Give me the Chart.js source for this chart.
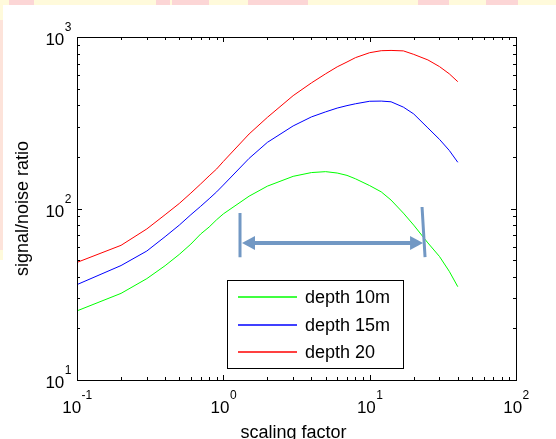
<!DOCTYPE html>
<html>
<head>
<meta charset="utf-8">
<script src="https://cdn.jsdelivr.net/npm/chart.js@4.4.0/dist/chart.umd.min.js"></script>
<style>
  html, body { margin: 0; padding: 0; background: #fff; }
  #wrap { width: 556px; height: 439px; }
</style>
</head>
<body>
<div id="wrap"><canvas id="chart" width="556" height="439"></canvas></div>
<script>
// scaling factor samples
const scaling = [0.1, 0.2, 0.3, 0.4, 0.5, 0.6, 0.7, 0.8, 0.9, 1, 1.5, 2, 3, 4, 5, 6, 7, 8, 10, 12, 14, 17, 20, 25, 30, 35, 40];

// signal/noise ratio
const depth10 = [25.3, 32, 39, 46.4, 54, 62, 71, 78, 86, 93, 118, 135, 154, 162, 164, 161, 156, 149, 136, 125, 112, 94, 80, 63, 52.5, 43, 35];
const depth15 = [36, 46.5, 56.5, 68.5, 80, 92, 103, 114, 125, 137, 196, 243, 303, 342, 366, 385, 398, 408, 422, 423, 419, 390, 356, 295, 253, 218, 186];
const depth20 = [48.5, 61, 76, 92, 107, 123, 139, 155, 170, 188, 272, 340, 455, 540, 610, 670, 715, 758, 810, 832, 835, 830, 792, 735, 672, 610, 549];

const seriesLabels = ['depth 10m', 'depth 15m', 'depth 20'];
const seriesColors = ['#00ff00', '#0000ff', '#ff0000'];

// decade labels
const xDecades = [-1, 0, 1, 2];
const yDecades = [1, 2, 3];

// the double arrow laid over the plot (scaling factor / ratio)
const arrowFrom = 1.3;
const arrowTo = 22.8;
const arrowY = 63;
const barLeft = [94, 52];
const barRight = [102, 52];

const FONT = 'Liberation Sans, Arial, sans-serif';

function toPoints(vals) {
  return scaling.map((x, i) => ({ x: x, y: vals[i] }));
}

// 10^n label with a raised exponent
function drawPower(ctx, exp, x, y, mode) {
  ctx.font = '17px ' + FONT;
  const wBase = ctx.measureText('10').width;
  ctx.font = '12px ' + FONT;
  const wExp = ctx.measureText(String(exp)).width;
  let left;
  if (mode === 'center') left = x - (wBase + wExp) / 2;
  else left = x - wBase - wExp;
  ctx.textAlign = 'left';
  ctx.textBaseline = 'alphabetic';
  ctx.fillStyle = '#000';
  ctx.font = '17px ' + FONT;
  ctx.fillText('10', left, y);
  ctx.font = '12px ' + FONT;
  ctx.fillText(String(exp), left + wBase + 0.5, y - 14);
}

const pagePlugin = {
  id: 'page',
  beforeDraw: (chart) => {
    const ctx = chart.ctx;
    ctx.save();
    ctx.fillStyle = '#ffffff';
    ctx.fillRect(0, 0, chart.width, chart.height);
    // slide strip along the top and left edge
    ctx.fillStyle = '#fffadb';
    ctx.fillRect(0, 0, chart.width, 5);
    ctx.fillRect(0, 0, 3, 260);
    ctx.fillStyle = '#fcd6d6';
    [[9, 25], [156, 14], [172, 37], [248, 60], [418, 31], [486, 32]].forEach(([x, w]) => {
      ctx.fillRect(x, 0, w, 5);
    });
    ctx.fillStyle = '#fde3da';
    ctx.fillRect(0, 20, 3, 230);
    ctx.restore();
  },
  afterDraw: (chart) => {
    const ctx = chart.ctx;
    const xs = chart.scales.x;
    const ys = chart.scales.y;
    const { left, right, top, bottom } = chart.chartArea;

    ctx.save();
    // box
    ctx.strokeStyle = '#000';
    ctx.lineWidth = 1;
    ctx.strokeRect(Math.round(left) + 0.5, Math.round(top) + 0.5,
      Math.round(right - left), Math.round(bottom - top));

    // inward ticks on all four sides
    ctx.beginPath();
    for (let d = -1; d < 2; d++) {
      for (let k = 1; k <= 10; k++) {
        const v = k * Math.pow(10, d);
        const px = Math.round(xs.getPixelForValue(v)) + 0.5;
        const len = (k === 1 || k === 10) ? 5 : 3;
        ctx.moveTo(px, bottom); ctx.lineTo(px, bottom - len);
        ctx.moveTo(px, top); ctx.lineTo(px, top + len);
      }
    }
    for (let d = 1; d < 3; d++) {
      for (let k = 1; k <= 10; k++) {
        const v = k * Math.pow(10, d);
        const py = Math.round(ys.getPixelForValue(v)) + 0.5;
        const len = (k === 1 || k === 10) ? 5 : 3;
        ctx.moveTo(left, py); ctx.lineTo(left + len, py);
        ctx.moveTo(right, py); ctx.lineTo(right - len, py);
      }
    }
    ctx.stroke();

    // tick labels
    xDecades.forEach((e) => {
      drawPower(ctx, e, xs.getPixelForValue(Math.pow(10, e)), bottom + 33, 'center');
    });
    yDecades.forEach((e) => {
      drawPower(ctx, e, left - 6, ys.getPixelForValue(Math.pow(10, e)) + 8, 'right');
    });

    // axis titles
    ctx.fillStyle = '#000';
    ctx.font = '18px ' + FONT;
    ctx.textAlign = 'center';
    ctx.textBaseline = 'alphabetic';
    ctx.fillText('scaling factor', (left + right) / 2 - 3, 438);
    ctx.save();
    ctx.translate(28, (top + bottom) / 2);
    ctx.rotate(-Math.PI / 2);
    ctx.fillText('signal/noise ratio', 0, 0);
    ctx.restore();

    // legend box
    const lx = 227, ly = 280, lw = 176, lh = 88;
    ctx.fillStyle = '#fff';
    ctx.fillRect(lx, ly, lw, lh);
    ctx.strokeStyle = '#000';
    ctx.lineWidth = 1;
    ctx.strokeRect(lx + 0.5, ly + 0.5, lw, lh);
    seriesLabels.forEach((label, i) => {
      const rowY = Math.round(ly + 17 + i * 27.5);
      ctx.strokeStyle = seriesColors[i];
      ctx.lineWidth = 1.3;
      ctx.beginPath();
      ctx.moveTo(lx + 11, rowY);
      ctx.lineTo(lx + 70, rowY);
      ctx.stroke();
      ctx.fillStyle = '#000';
      ctx.font = '18px ' + FONT;
      ctx.textAlign = 'left';
      ctx.textBaseline = 'middle';
      ctx.fillText(label, lx + 78, rowY + 1);
    });

    // double arrow with end bars
    const arrowColor = '#7298c4';
    const ax1 = xs.getPixelForValue(arrowFrom);
    const ax2 = xs.getPixelForValue(arrowTo);
    const ay = ys.getPixelForValue(arrowY);
    ctx.strokeStyle = arrowColor;
    ctx.fillStyle = arrowColor;
    ctx.lineWidth = 3;
    ctx.beginPath();
    ctx.moveTo(ax1, ys.getPixelForValue(barLeft[0]));
    ctx.lineTo(ax1, ys.getPixelForValue(barLeft[1]));
    ctx.moveTo(ax2, ys.getPixelForValue(barRight[0]));
    ctx.lineTo(ax2 + 3, ys.getPixelForValue(barRight[1]));
    ctx.stroke();
    ctx.lineWidth = 4;
    ctx.beginPath();
    ctx.moveTo(ax1 + 10, ay);
    ctx.lineTo(ax2 - 10, ay);
    ctx.stroke();
    ctx.beginPath();
    ctx.moveTo(ax1 + 2, ay);
    ctx.lineTo(ax1 + 15, ay - 7);
    ctx.lineTo(ax1 + 15, ay + 7);
    ctx.closePath();
    ctx.fill();
    ctx.beginPath();
    ctx.moveTo(ax2 + 1, ay);
    ctx.lineTo(ax2 - 12, ay - 7);
    ctx.lineTo(ax2 - 12, ay + 7);
    ctx.closePath();
    ctx.fill();
    ctx.restore();
  },
};

const seriesData = [depth10, depth15, depth20];

new Chart(document.getElementById('chart'), {
  type: 'line',
  data: {
    datasets: seriesData.map((vals, i) => ({
      label: seriesLabels[i],
      data: toPoints(vals),
      borderColor: seriesColors[i],
      backgroundColor: seriesColors[i],
      borderWidth: 1,
      pointRadius: 0,
      tension: 0,
      fill: false,
    })),
  },
  plugins: [pagePlugin],
  options: {
    responsive: false,
    animation: false,
    events: [],
    layout: {
      padding: { left: 77, right: 40, top: 37, bottom: 59 },
    },
    scales: {
      x: { type: 'logarithmic', min: 0.1, max: 100, display: false },
      y: { type: 'logarithmic', min: 10, max: 1000, display: false },
    },
    plugins: {
      legend: { display: false },
      tooltip: { enabled: false },
    },
  },
});
</script>
</body>
</html>
